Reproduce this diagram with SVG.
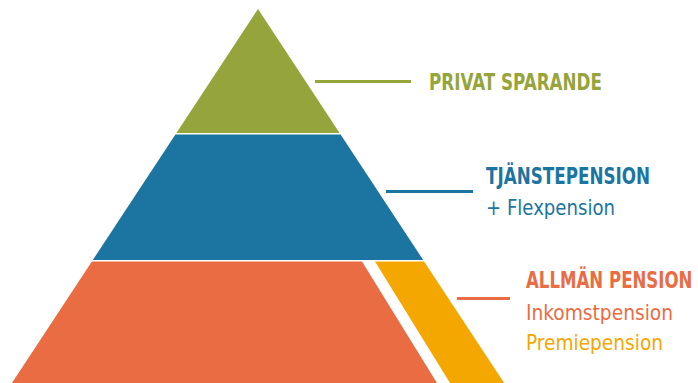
<svg xmlns="http://www.w3.org/2000/svg" width="698" height="383" viewBox="0 0 698 383">
<style>
.t{font-family:"DejaVu Sans Condensed","Roboto","Liberation Sans",sans-serif;}
.h{font-weight:bold;font-size:22.5px;}
.s{font-size:21px;}
.ln{stroke-width:3;fill:none;}
</style>
<rect width="698" height="383" fill="#ffffff"/>
<g id="privat">
<polygon points="258,9 339.6,133 176.4,133" fill="#95a53c"/>
<text class="t h" x="429" y="90" fill="#95a53c" textLength="173" lengthAdjust="spacingAndGlyphs">PRIVAT SPARANDE</text>
</g>
<g id="tjanste">
<polygon points="175.4,134.5 340.6,134.5 423.2,260 92.8,260" fill="#1c75a0"/>
<text class="t h" x="486" y="184" fill="#1c75a0" textLength="164" lengthAdjust="spacingAndGlyphs">TJÄNSTEPENSION</text>
<text class="t s" x="486" y="215" fill="#1c75a0" textLength="129" lengthAdjust="spacingAndGlyphs">+ Flexpension</text>
</g>
<g id="allman">
<polygon points="91.9,261.5 362,261.5 437,383 11.9,383" fill="#e96c43"/>
<text class="t h" transform="translate(526,288) scale(0.82,1)" x="0" y="0" fill="#e96c43">ALLMÄN PENSION</text>
<text class="t s" x="526" y="320" fill="#e96c43" textLength="147" lengthAdjust="spacingAndGlyphs">Inkomstpension</text>
</g>
<g id="premie">
<polygon points="375,261.5 424.1,261.5 504.2,383 450,383" fill="#f4a700"/>
<text class="t s" x="526" y="350" fill="#f4a700" textLength="137" lengthAdjust="spacingAndGlyphs">Premiepension</text>
</g>
<g id="connectors">
<line class="ln" x1="315" y1="81.5" x2="411" y2="81.5" stroke="#95a53c"/>
<line class="ln" x1="386" y1="191.5" x2="473" y2="191.5" stroke="#1c75a0"/>
<line class="ln" x1="457" y1="298.5" x2="510" y2="298.5" stroke="#e96c43"/>
</g>
</svg>
